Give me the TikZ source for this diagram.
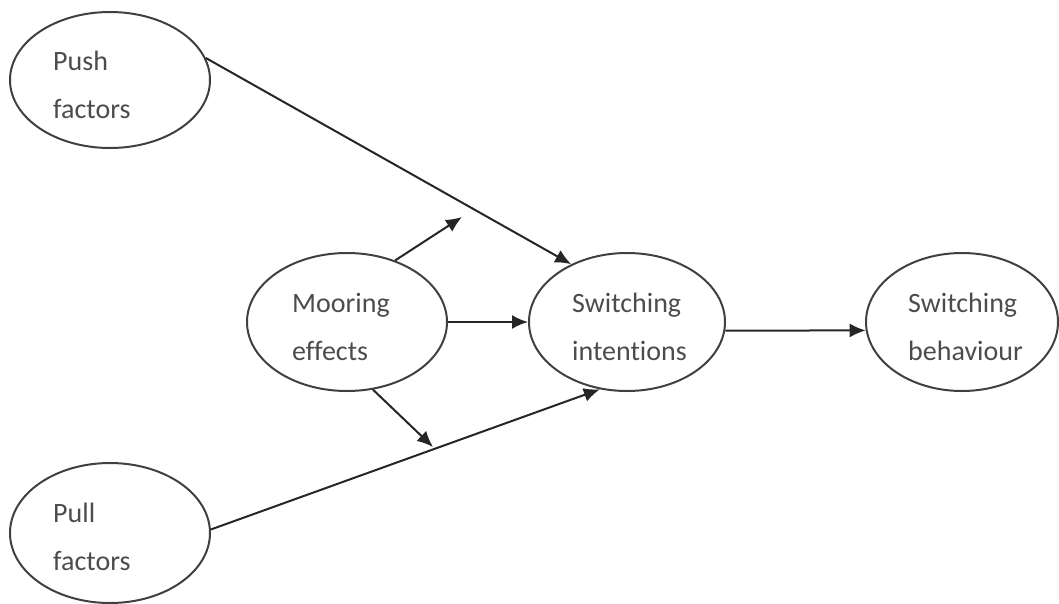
\documentclass[tikz,border=0pt]{standalone}
\usepackage{fontspec}
\setmainfont{Carlito}[Ligatures={NoCommon}]
\usetikzlibrary{shapes.geometric,arrows.meta}
\tikzset{
  oval/.style={ellipse,draw=black!75,line width=2pt,inner sep=0pt},
  lbl/.style={anchor=base west,align=left,inner sep=0pt,text=black!70,
    font=\fontsize{28}{48}\selectfont},
  conn/.style={draw=black!85,line width=2pt,-{Latex[length=16pt,width=14pt]}}
}
\begin{document}
\begin{tikzpicture}[x=1pt,y=-1pt]
\useasboundingbox (0,0) rectangle (1059,603);
\node[oval,minimum width=200pt,minimum height=136pt] (push) at (110,80) {};
\node[oval,minimum width=200pt,minimum height=140pt] (pull) at (110,533) {};
\node[oval,minimum width=200pt,minimum height=138pt] (moor) at (347,322) {};
\node[oval,minimum width=196pt,minimum height=138pt] (si) at (627,322) {};
\node[oval,minimum width=192pt,minimum height=138pt] (sb) at (962,322) {};
\node[lbl] (pushT) at (53,118) {Push\\factors};
\node[lbl] (pullT) at (53,570) {Pull\\factors};
\node[lbl] (moorT) at (292,360) {Mooring\\effects};
\node[lbl] (siT) at (572,360) {Switching\\intentions};
\node[lbl] (sbT) at (908,360) {Switching\\behaviour};
\coordinate (up) at (462,217);
\coordinate (down) at (433,447);
\draw[conn] (push.13) -- (si.134);
\draw[conn] (pull.2) -- (si.248);
\draw[conn] (moor.east) -- (si.west);
\draw[conn] (moor.52) -- (up);
\draw[conn] (moor.291) -- (down);
\draw[conn] (si.-5) -- (sb.185);
\end{tikzpicture}
\end{document}
